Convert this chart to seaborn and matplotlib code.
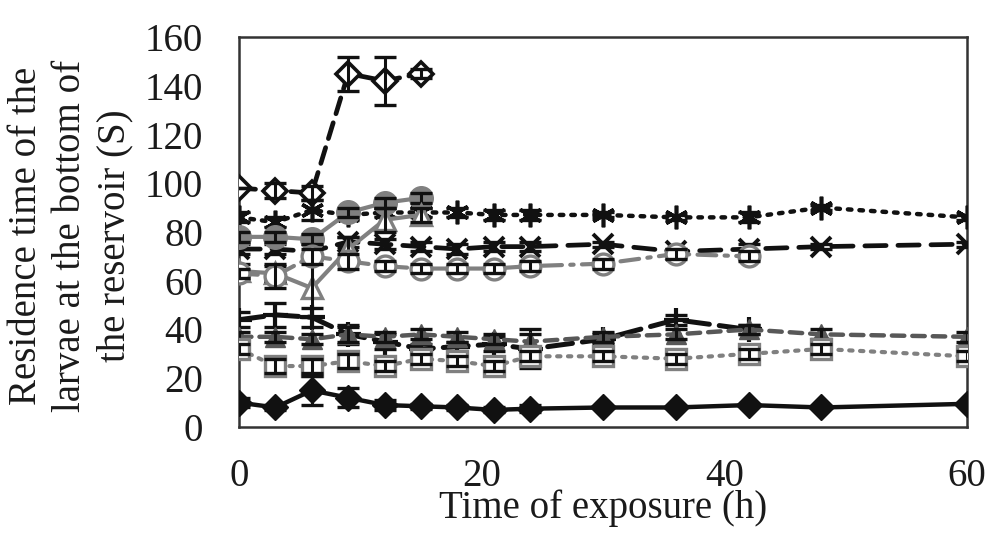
import numpy as np
import pandas as pd
import matplotlib
matplotlib.use("Agg")
import matplotlib.pyplot as plt
import seaborn as sns

# ---------------- data ----------------
t_full = [0, 3, 6, 9, 12, 15, 18, 21, 24, 30, 36, 42, 48, 60]
t_42 = [0, 3, 6, 9, 12, 15, 18, 21, 24, 30, 36, 42]
t_15 = [0, 3, 6, 9, 12, 15]

open_diamond = [98, 97, 96, 145, 142, 145]
open_diamond_err = [0, 3, 3, 7, 10, 2]

asterisk = [86, 84, 89, 87, 88, 88, 88, 87, 87, 87, 86, 86, 90, 86]
asterisk_err = [2, 2, 4, 2, 2, 2, 2, 2, 2, 1, 1, 2, 1, 1]

cross = [73, 73, 72, 76, 75, 74, 73, 74, 74, 75, 72, 73, 74, 75]
cross_err = [2, 2, 3, 2, 2, 2, 2, 2, 2, 1, 1, 2, 1, 1]

filled_circle = [78, 78, 77, 88, 92, 94]
filled_circle_err = [2, 2, 2, 2, 2, 2]

open_triangle = [64, 63, 57, 73, 85, 87]
open_triangle_err = [3, 3, 12, 5, 5, 3]

open_circle = [63, 62, 70, 68, 66, 65, 65, 65, 66, 67, 71, 70]
open_circle_err = [2, 5, 3, 3, 2, 2, 2, 2, 2, 2, 2, 2]

plus = [44, 46, 45, 38, 35, 32, 33, 34, 32, 36, 44, 40]
plus_err = [3, 5, 4, 4, 3, 2, 2, 3, 8, 2, 2, 2]

filled_triangle = [37, 37, 36, 38, 37, 38, 37, 36, 35, 37, 38, 40, 38, 37]
filled_triangle_err = [2, 2, 2, 3, 2, 2, 2, 2, 3, 2, 2, 2, 2, 2]

open_square = [32, 25, 25, 27, 25, 28, 27, 25, 29, 29, 28, 30, 32, 29]
open_square_err = [2, 3, 3, 3, 2, 2, 2, 2, 2, 2, 2, 2, 2, 2]

filled_diamond = [10, 8, 15, 12, 9, 8.5, 8, 7, 7.5, 8, 8, 9, 8, 9.5]
filled_diamond_err = [2, 1, 6, 4, 2, 1, 1, 1, 1.5, 0, 0, 0, 0, 0]

x_ticks = [0, 20, 40, 60]
y_ticks = [0, 20, 40, 60, 80, 100, 120, 140, 160]
x_label = "Time of exposure (h)"
y_label = "Residence time of the\nlarvae at the bottom of\nthe reservoir (S)"

# ---------------- style ----------------
sns.set_theme(style="white")
plt.rcParams['font.family'] = ['Liberation Serif', 'DejaVu Serif']

fig = plt.figure(figsize=(10, 5.34), dpi=100)
ax = fig.add_axes([0.239, 0.2004, 0.728, 0.7303])

GRAY = "#808080"
DGRAY = "#585858"
BLACK = "#111111"

series = [
    # x, y, err, marker, ms, face, edge, line color, linestyle, lw, mew
    (t_15, open_diamond, open_diamond_err, "D", 12, "white", BLACK, BLACK, (0, (3.5, 2)), 3.4, 2.6),
    (t_full, asterisk, asterisk_err, (6, 2, 0), 17, BLACK, BLACK, BLACK, (0, (0.8, 1.8)), 3.2, 2.6),
    (t_full, cross, cross_err, "x", 15, BLACK, BLACK, BLACK, (0, (4.5, 2.5)), 3.4, 2.8),
    (t_15, filled_circle, filled_circle_err, "o", 17, GRAY, GRAY, GRAY, "-", 3.0, 1.0),
    (t_15, open_triangle, open_triangle_err, "^", 15, "white", GRAY, GRAY, "-", 3.0, 2.4),
    (t_42, open_circle, open_circle_err, "o", 15, "white", GRAY, GRAY, (0, (4.5, 2, 0.8, 2)), 3.0, 2.4),
    (t_42, plus, plus_err, "+", 18, BLACK, BLACK, BLACK, (0, (5, 2)), 3.6, 3.0),
    (t_full, filled_triangle, filled_triangle_err, "^", 15, DGRAY, DGRAY, DGRAY, (0, (2.8, 1.8)), 3.2, 1.0),
    (t_full, open_square, open_square_err, "s", 14, "white", GRAY, GRAY, (0, (0.8, 1.8)), 3.0, 2.4),
    (t_full, filled_diamond, filled_diamond_err, "D", 13, BLACK, BLACK, BLACK, "-", 3.2, 1.0),
]

for i, (x, y, e, mk, ms, fc, ec, lc, ls, lw, mew) in enumerate(series):
    df = pd.DataFrame({"t": x, "v": y})
    sns.lineplot(data=df, x="t", y="v", ax=ax, color=lc, linestyle=ls, linewidth=lw,
                 marker=mk, markersize=ms, markerfacecolor=fc, markeredgecolor=ec,
                 markeredgewidth=mew, zorder=3 + i, legend=False,
                 dash_capstyle="round", solid_capstyle="round")
    ax.errorbar(x, y, yerr=e, fmt="none", ecolor=BLACK, elinewidth=2.2,
                capsize=8, capthick=2.4, zorder=3 + i)

ax.set_xlim(0, 60)
ax.set_ylim(0, 160)
ax.set_xticks(x_ticks)
ax.set_yticks(y_ticks)
ax.tick_params(axis="both", length=0, labelsize=28, colors="#1a1a1a")
ax.tick_params(axis="x", pad=22)
ax.tick_params(axis="y", pad=26)

for sp in ax.spines.values():
    sp.set_visible(True)
    sp.set_color("#333333")
    sp.set_linewidth(1.8)

ax.set_xlabel(x_label, fontsize=28, color="#1a1a1a")
ax.set_ylabel(y_label, fontsize=28, color="#1a1a1a", linespacing=1.25)
ax.xaxis.set_label_coords(0.5, -0.16)
ax.yaxis.set_label_coords(-0.145, 0.49)

fig.savefig("out.png", dpi=100, facecolor="white")
